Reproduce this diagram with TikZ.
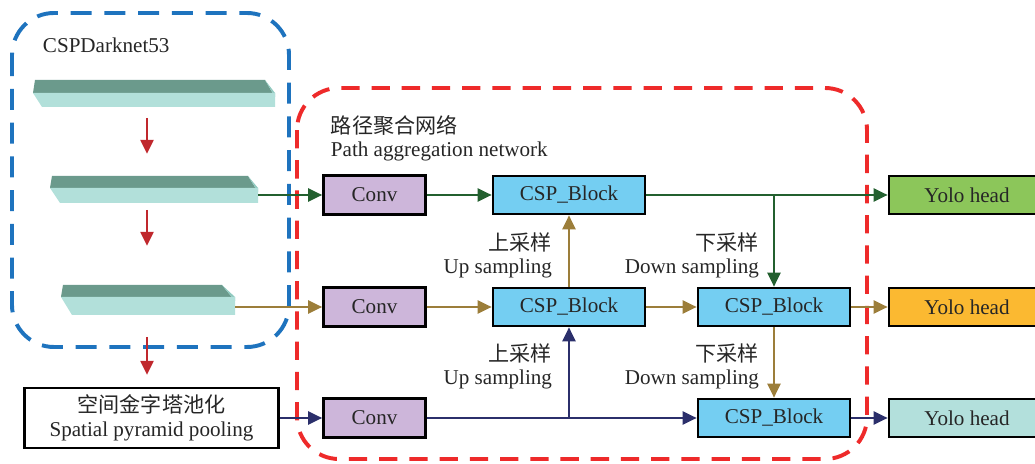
\documentclass[tikz,border=0pt]{standalone}
\usepackage{fontspec}
\setmainfont{Liberation Serif}
\newfontfamily\cjk{Noto Sans CJK SC}
\usepackage{tikz}
\usetikzlibrary{arrows.meta,positioning}

\definecolor{framered}{HTML}{EE2A2A}
\definecolor{frameblue}{HTML}{1E73BE}
\definecolor{bardark}{HTML}{6B9A8C}
\definecolor{barlight}{HTML}{B2E0DA}
\definecolor{barside}{HTML}{8FC9BF}
\definecolor{downred}{HTML}{C0282D}
\definecolor{convfill}{HTML}{CDB6DA}
\definecolor{cspfill}{HTML}{74CEF2}
\definecolor{headgreen}{HTML}{8CC65A}
\definecolor{headorange}{HTML}{FBB931}
\definecolor{headcyan}{HTML}{B3E0DC}
\definecolor{linegreen}{HTML}{23602F}
\definecolor{linegold}{HTML}{9C7E3A}
\definecolor{linenavy}{HTML}{2B2F6B}

\begin{document}
\begin{tikzpicture}[x=0.025cm, y=-0.025cm,
  every node/.style={font=\fontsize{15}{16.5}\selectfont, text=black!85},
  box/.style={draw=black, line width=1.7pt, inner sep=0pt},
  convbox/.style={box, fill=convfill, minimum width=2.55cm, minimum height=0.98cm},
  cspbox/.style={box, fill=cspfill, minimum width=3.8cm, minimum height=0.95cm},
  headbox/.style={box, minimum width=3.9cm, minimum height=0.95cm},
  flow/.style={line width=2.1pt, -{Triangle[length=10pt,width=9pt]}},
  frame/.style={line width=2.8pt, dash pattern=on 15pt off 9pt, rounded corners=1.05cm},
  label/.style={align=right, anchor=east}]

\clip (0,0) rectangle (1035,464);

  % Left side: backbone

\draw[frame, frameblue] (12,13) rectangle (289,347);
\node (darknet) at (38,45) [anchor=west] {CSPDarknet53};

% bar 1
\fill[bardark] (35,80) -- (265,80) -- (275,97) -- (33,93) -- cycle;
\fill[barside] (265,80) -- (275,93) -- (275,97) -- cycle;
\fill[barlight] (33,93) -- (275,93) -- (275,107) -- (42,107) -- cycle;
% bar 2
\fill[bardark] (52,176) -- (248,176) -- (258,192) -- (50,188) -- cycle;
\fill[barside] (248,176) -- (258,188) -- (258,192) -- cycle;
\fill[barlight] (50,188) -- (258,188) -- (258,203) -- (60,203) -- cycle;
% bar 3
\fill[bardark] (63,285) -- (222,285) -- (235,301) -- (61,297) -- cycle;
\fill[barside] (222,285) -- (235,297) -- (235,301) -- cycle;
\fill[barlight] (61,297) -- (235,297) -- (235,315) -- (72,315) -- cycle;

\coordinate (barA) at (147,118);
\coordinate (barB) at (147,154);
\coordinate (barC) at (147,210);
\coordinate (barD) at (147,246);
\coordinate (barE) at (147,337);
\coordinate (barF) at (147,375);
\coordinate (outB) at (258,195);
\coordinate (outC) at (235,307);

\draw[flow, downred] (barA) -- (barB);
\draw[flow, downred] (barC) -- (barD);
\draw[flow, downred] (barE) -- (barF);

\node (spp) at (151.5,418) [box, fill=white, minimum width=6.35cm, minimum height=1.5cm, align=center]
  {{\cjk 空间金字塔池化}\\[1pt] Spatial pyramid pooling};

% Right side: path aggregation network

\draw[frame, framered, dash pattern=on 13pt off 8.5pt] (297,88) rectangle (867,459);
\node (panet) at (326,138) [anchor=west, align=left] {{\cjk 路径聚合网络}\\ Path aggregation network};

\node (conv1) at (374.5,195) [convbox] {Conv};
\node (conv2) at (374.5,307) [convbox] {Conv};
\node (conv3) at (374.5,418) [convbox] {Conv};

\node (csp1) at (569,195) [cspbox] {CSP\_Block};
\node (csp2) at (569,307) [cspbox] {CSP\_Block};
\node (csp4) at (774,307) [cspbox] {CSP\_Block};
\node (csp3) at (774,418) [cspbox] {CSP\_Block};

\node (yolo1) at (967,195) [headbox, fill=headgreen] {Yolo head};
\node (yolo2) at (967,307) [headbox, fill=headorange] {Yolo head};
\node (yolo3) at (967,418) [headbox, fill=headcyan] {Yolo head};

\node (upA) at (557,255) [label] {{\cjk 上采样}\\ Up sampling};
\node (upB) at (557,366) [label] {{\cjk 上采样}\\ Up sampling};
\node (downA) at (764,255) [label] {{\cjk 下采样}\\ Down sampling};
\node (downB) at (764,366) [label] {{\cjk 下采样}\\ Down sampling};

% row 1
\draw[flow, linegreen] (outB) -- (conv1);
\draw[flow, linegreen] (conv1) -- (csp1);
\draw[flow, linegreen] (csp1) -- (yolo1);
\draw[flow, linegreen] (csp1.east -| csp4.north) -- (csp4.north);

% row 2
\draw[flow, linegold] (outC) -- (conv2);
\draw[flow, linegold] (conv2) -- (csp2);
\draw[flow, linegold] (csp2) -- (csp4);
\draw[flow, linegold] (csp4) -- (yolo2);
\draw[flow, linegold] (csp2.north) -- (csp1.south);
\draw[flow, linegold] (csp4.south) -- (csp3.north);

% row 3
\draw[flow, linenavy] (spp) -- (conv3);
\draw[flow, linenavy] (conv3) -- (csp3);
\draw[flow, linenavy] (csp3) -- (yolo3);
\draw[flow, linenavy] (conv3.east -| csp2.south) -- (csp2.south);

\end{tikzpicture}
\end{document}
